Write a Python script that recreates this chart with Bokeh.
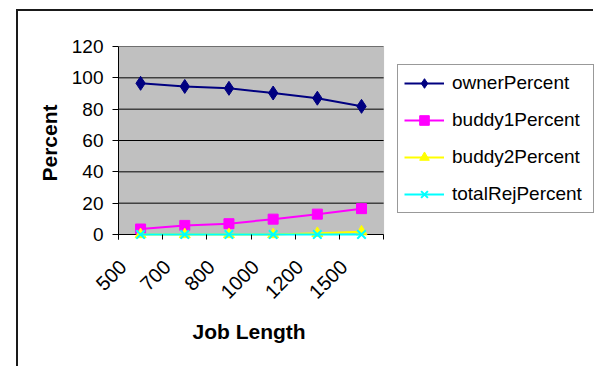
from math import pi

from bokeh.embed import file_html
from bokeh.models import BoxAnnotation, FixedTicker, Legend, LegendItem, Range1d, Title
from bokeh.plotting import figure
from bokeh.resources import INLINE

# Job length categories and the share of jobs handled by each party (%)
job_lengths = ["500", "700", "800", "1000", "1200", "1500"]
owner_percent = [96.5, 94.5, 93.3, 90.3, 87.0, 81.8]
buddy1_percent = [3.5, 5.8, 6.9, 9.8, 13.0, 16.5]
buddy2_percent = [0.0, 0.0, 0.0, 0.0, 0.8, 1.8]
total_rej_percent = [0.0, 0.0, 0.0, 0.0, 0.0, 0.0]
y_ticks = [0, 20, 40, 60, 80, 100, 120]

n_cat = len(job_lengths)
# categories sit in the middle of unit-wide slots, ticks on slot boundaries
xs = [i + 0.5 for i in range(n_cat)]
bounds = list(range(n_cat + 1))
# slanted labels hang slightly left of their slot centre
label_shift = 0.4
label_pos = [x - label_shift for x in xs]

FONT = "Liberation Sans"
Y_MIN, Y_MAX = 0, 120
PX_PER_SLOT = 44.0
# a few px of room under the zero line so markers there are drawn whole
y_pad = 5 / 188 * (Y_MAX - Y_MIN)
# the frame runs on to the right so the legend box can sit beside the grey area
x_end = n_cat + 211 / PX_PER_SLOT

p = figure(
    width=577, height=357,
    x_range=Range1d(0, x_end), y_range=Range1d(Y_MIN - y_pad, Y_MAX),
    output_backend="svg", toolbar_location=None,
    min_border_left=100, min_border_right=0,
    min_border_top=35, min_border_bottom=129,
    background_fill_color="white", border_fill_color="white",
    outline_line_color=None,
)
p.margin = (9, 0, 0, 16)
p.styles = {"border-top": "2px solid #1a1a1a", "border-left": "2px solid #1a1a1a"}

# grey plotting area
p.add_layout(BoxAnnotation(left=0, right=n_cat, bottom=Y_MIN, top=Y_MAX,
                           fill_color="#c0c0c0", fill_alpha=1.0,
                           line_color="#808080", line_width=1, level="image"))

# horizontal gridlines across the grey area (the zero one is the category axis line)
p.xgrid.visible = False
p.ygrid.visible = False
p.segment(x0=[0] * len(y_ticks), y0=y_ticks, x1=[n_cat] * len(y_ticks), y1=y_ticks,
          line_color="black", line_width=1)

# y axis
ya = p.yaxis[0]
ya.ticker = FixedTicker(ticks=y_ticks)
ya.axis_line_color = "black"
ya.major_tick_line_color = "black"
ya.major_tick_out = 6
ya.major_tick_in = 0
ya.minor_tick_line_color = None
ya.major_label_text_font = FONT
ya.major_label_text_font_size = "19px"
ya.major_label_text_color = "black"
ya.major_label_standoff = 9
ya.axis_label = "Percent"
ya.axis_label_text_font = FONT
ya.axis_label_text_font_style = "bold"
ya.axis_label_text_font_size = "21px"
ya.axis_label_text_color = "black"
ya.axis_label_standoff = 8

# x axis: ticks drawn upward from the frame bottom to the zero line
xa = p.xaxis[0]
xa.ticker = FixedTicker(ticks=label_pos, minor_ticks=bounds)
xa.major_label_overrides = {x: lab for x, lab in zip(label_pos, job_lengths)}
xa.axis_line_color = None
xa.major_tick_line_color = None
xa.major_tick_out = 0
xa.major_tick_in = 0
xa.minor_tick_line_color = "black"
xa.minor_tick_out = 0
xa.minor_tick_in = 5
xa.major_label_orientation = pi / 4
xa.major_label_text_font = FONT
xa.major_label_text_font_size = "20px"
xa.major_label_text_color = "black"
xa.major_label_standoff = 24

# x axis title, centred under the grey area
p.add_layout(Title(text="Job Length", align="left", offset=74, standoff=20,
                   text_font=FONT, text_font_style="bold", text_font_size="21px",
                   text_color="black"), "below")

# series
series = [
    ("ownerPercent", owner_percent, "#000080", "diamond", 14),
    ("buddy1Percent", buddy1_percent, "#ff00ff", "square", 10),
    ("buddy2Percent", buddy2_percent, "#ffff00", "triangle", 11),
    ("totalRejPercent", total_rej_percent, "#00ffff", "x", 12),
]

items = []
for name, vals, color, marker, size in series:
    ln = p.line(xs, vals, line_color=color, line_width=2)
    sc = p.scatter(xs, vals, marker=marker, size=size,
                   fill_color=color, line_color=color,
                   line_width=2 if marker == "x" else 1)
    items.append(LegendItem(label=name, renderers=[ln, sc]))

legend = Legend(
    items=items, location=(279, 26),
    glyph_width=40, glyph_height=24, label_height=24, label_width=135,
    label_standoff=8, spacing=13, padding=6, margin=0,
    label_text_font=FONT, label_text_font_size="19px", label_text_color="black",
    border_line_color="#333333", border_line_width=1,
    background_fill_color="white", background_fill_alpha=1.0,
)
p.add_layout(legend, "center")

open("out.html", "w").write(file_html(p, INLINE))
